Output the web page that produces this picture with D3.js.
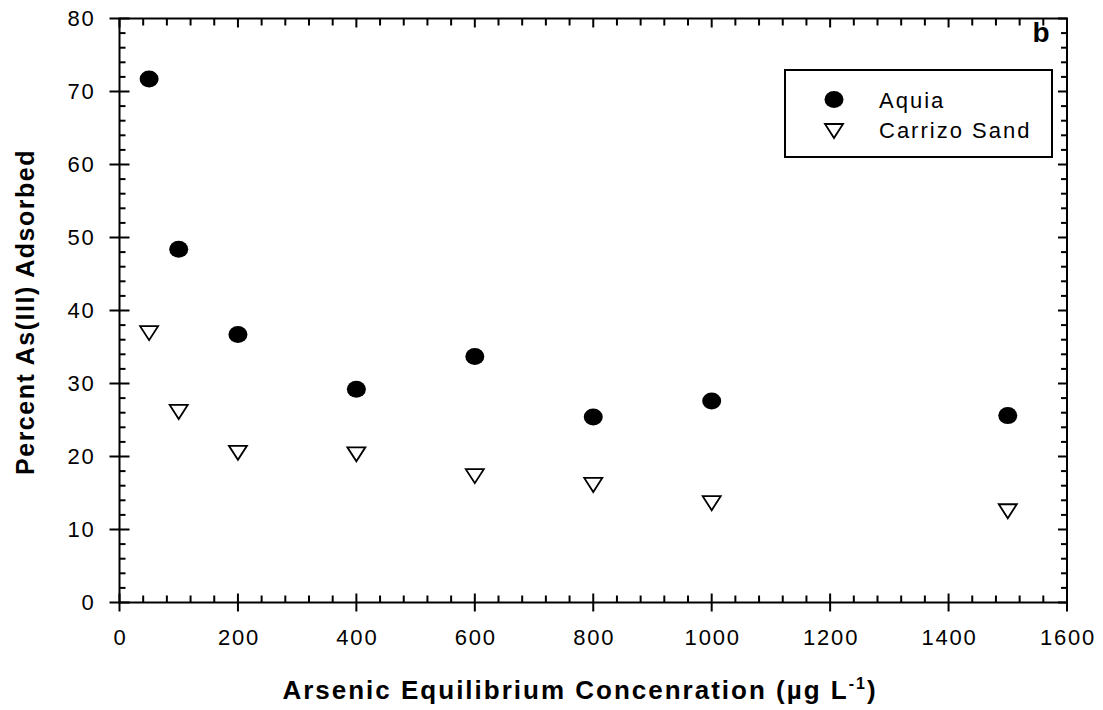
<!DOCTYPE html>
<html>
<head>
<meta charset="utf-8">
<script src="https://cdn.jsdelivr.net/npm/d3@7"></script>
<style>
  html, body { margin: 0; padding: 0; background: #fff; }
  svg { display: block; font-family: Arial, "Liberation Sans", Helvetica, sans-serif; }
</style>
</head>
<body>
<svg id="chart" width="1103" height="710"></svg>
<script>
// ---- data ----
const concentrations = [50, 100, 200, 400, 600, 800, 1000, 1500];
const aquia = [71.7, 48.4, 36.7, 29.2, 33.7, 25.4, 27.6, 25.6];
const carrizo = [36.9, 26.1, 20.5, 20.3, 17.3, 16.1, 13.6, 12.5];
const seriesNames = ["Aquia", "Carrizo Sand"];
const xTicks = [0, 200, 400, 600, 800, 1000, 1200, 1400, 1600];
const yTicks = [0, 10, 20, 30, 40, 50, 60, 70, 80];

// ---- layout ----
const pL = 119.5, pR = 1067, pT = 18.5, pB = 602.5;
const svg = d3.select("#chart");

const x = d3.scaleLinear().domain([0, 1600]).range([pL, pR]);
const y = d3.scaleLinear().domain([0, 80]).range([pB, pT]);

const xMinor = d3.range(0, 1601, 40).filter(v => v % 200 !== 0);
const yMinor = d3.range(0, 81, 2).filter(v => v % 10 !== 0);

const g = svg.append("g").attr("stroke", "#000").attr("stroke-width", 2).attr("fill", "none");

// frame
g.append("rect").attr("x", pL).attr("y", pT).attr("width", pR - pL).attr("height", pB - pT);

function ticks(cls, data, attrs) {
  const s = g.selectAll("line." + cls).data(data).join("line").attr("class", cls);
  for (const k in attrs) s.attr(k, attrs[k]);
}
// left axis ticks
ticks("ylm", yTicks, { x1: pL - 10, x2: pL + 10, y1: d => y(d), y2: d => y(d) });
ticks("yln", yMinor, { x1: pL, x2: pL + 6, y1: d => y(d), y2: d => y(d) });
// right axis ticks
ticks("yrm", yTicks, { x1: pR - 9, x2: pR, y1: d => y(d), y2: d => y(d) });
ticks("yrn", yMinor, { x1: pR - 6, x2: pR, y1: d => y(d), y2: d => y(d) });
// bottom axis ticks
ticks("xbm", xTicks, { x1: d => x(d), x2: d => x(d), y1: pB - 9, y2: pB + 9 });
ticks("xbn", xMinor, { x1: d => x(d), x2: d => x(d), y1: pB - 7, y2: pB });
// top axis ticks
ticks("xtm", xTicks, { x1: d => x(d), x2: d => x(d), y1: pT, y2: pT + 9 });
ticks("xtn", xMinor, { x1: d => x(d), x2: d => x(d), y1: pT, y2: pT + 7 });

// tick labels
svg.append("g").selectAll("text").data(yTicks).join("text")
  .attr("x", pL - 24).attr("y", d => y(d)).attr("dy", "0.36em")
  .attr("text-anchor", "end").attr("font-size", 22).attr("letter-spacing", 1.8)
  .text(d => d);
svg.append("g").selectAll("text").data(xTicks).join("text")
  .attr("x", d => x(d) + 1).attr("y", pB + 42)
  .attr("text-anchor", "middle").attr("font-size", 22).attr("letter-spacing", 1.8)
  .text(d => d);

// axis titles
const xt = svg.append("text")
  .attr("x", 580).attr("y", 699)
  .attr("text-anchor", "middle").attr("font-size", 26).attr("font-weight", "bold")
  .attr("letter-spacing", 2);
xt.append("tspan").text("Arsenic Equilibrium Concenration (\u00b5g L");
xt.append("tspan").attr("dy", -10).attr("font-size", 16).text("-1");
xt.append("tspan").attr("dy", 10).text(")");

svg.append("text")
  .attr("transform", `translate(34, 312) rotate(-90)`)
  .attr("text-anchor", "middle").attr("font-size", 25).attr("font-weight", "bold")
  .attr("letter-spacing", 1.5)
  .text("Percent As(III) Adsorbed");

// panel label
svg.append("text").attr("x", 1041).attr("y", 42).attr("text-anchor", "middle")
  .attr("font-size", 28).attr("font-weight", "bold").text("b");

// data markers
const triPath = "M-9,-7 L9,-7 L0,7 Z";

svg.append("g").selectAll("ellipse").data(concentrations.map((c, i) => [c, aquia[i]])).join("ellipse")
  .attr("cx", d => x(d[0])).attr("cy", d => y(d[1])).attr("rx", 9.5).attr("ry", 8.5).attr("fill", "#000");
svg.append("g").selectAll("path").data(concentrations.map((c, i) => [c, carrizo[i]])).join("path")
  .attr("transform", d => `translate(${x(d[0])},${y(d[1])})`)
  .attr("d", triPath).attr("fill", "#fff").attr("stroke", "#000").attr("stroke-width", 1.8);

// legend
const lg = svg.append("g");
lg.append("rect").attr("x", 785).attr("y", 70).attr("width", 267).attr("height", 87)
  .attr("fill", "#fff").attr("stroke", "#000").attr("stroke-width", 2);
lg.append("ellipse").attr("cx", 834).attr("cy", 99.5).attr("rx", 9.5).attr("ry", 8.5).attr("fill", "#000");
lg.append("path").attr("transform", "translate(834,131)").attr("d", triPath)
  .attr("fill", "#fff").attr("stroke", "#000").attr("stroke-width", 1.8);
lg.selectAll("text").data(seriesNames).join("text")
  .attr("x", 879).attr("y", (d, i) => 108 + i * 30)
  .attr("font-size", 22).attr("letter-spacing", 2)
  .text(d => d);
</script>
</body>
</html>
